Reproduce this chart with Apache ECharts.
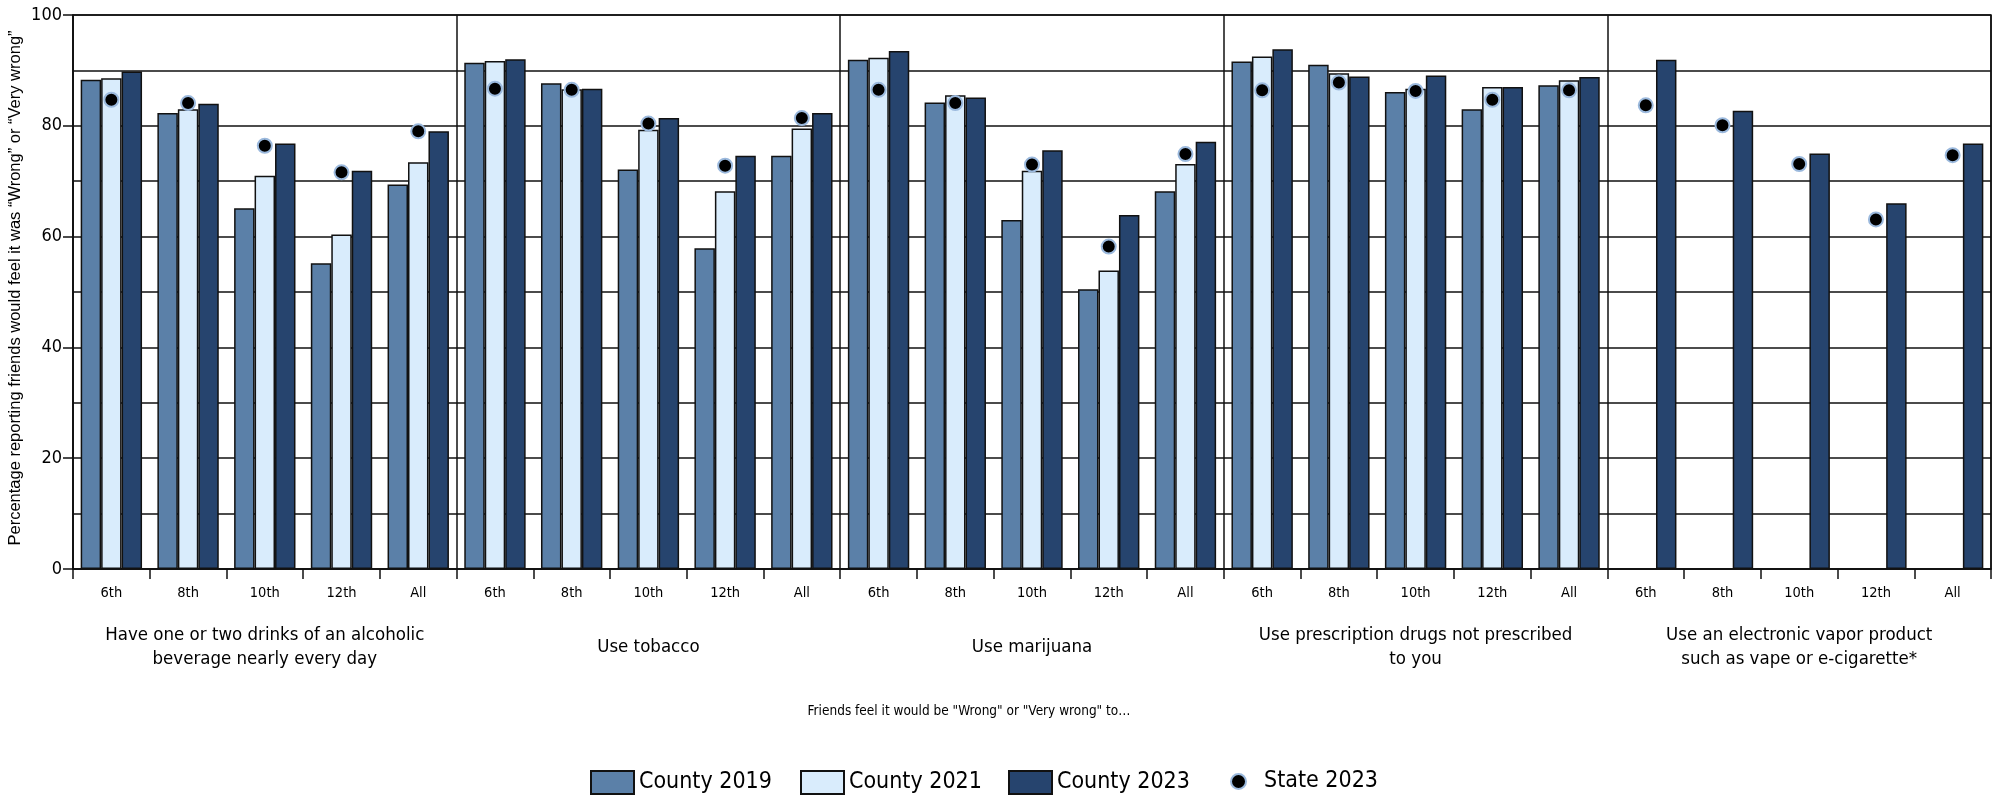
<!DOCTYPE html>
<html>
<head>
<meta charset="utf-8">
<script src="https://cdn.jsdelivr.net/npm/echarts@6/dist/echarts.min.js"></script>
<style>
html,body{margin:0;padding:0;background:#fff;}
#chart{width:1999px;height:801px;}
</style>
</head>
<body>
<div id="chart"></div>
<script>
const grades = ['6th','8th','10th','12th','All'];
const groups = [
  'Have one or two drinks of an alcoholic\nbeverage nearly every day',
  'Use tobacco',
  'Use marijuana',
  'Use prescription drugs not prescribed\nto you',
  'Use an electronic vapor product\nsuch as vape or e-cigarette*'
];
const categories = [].concat(grades, grades, grades, grades, grades);
const county2019 = [88.3, 82.3, 65.1, 55.2, 69.4,  91.4, 87.7, 72.1, 57.9, 74.6,  91.9, 84.2, 63.0, 50.5, 68.2,  91.6, 91.0, 86.1, 83.0, 87.3,  null, null, null, null, null];
const county2021 = [88.6, 83.0, 71.0, 60.4, 73.4,  91.7, 86.6, 79.3, 68.2, 79.5,  92.3, 85.5, 71.9, 53.9, 73.1,  92.5, 89.5, 86.7, 87.0, 88.2,  null, null, null, null, null];
const county2023 = [89.8, 84.0, 76.8, 71.9, 79.0,  92.0, 86.7, 81.4, 74.6, 82.3,  93.5, 85.1, 75.6, 63.9, 77.1,  93.8, 88.9, 89.1, 87.0, 88.8,  91.9, 82.7, 75.0, 66.0, 76.8];
const state2023  = [84.7, 84.1, 76.4, 71.6, 79.0,  86.7, 86.5, 80.4, 72.8, 81.4,  86.5, 84.1, 73.0, 58.2, 74.9,  86.4, 87.8, 86.3, 84.7, 86.4,  83.7, 80.1, 73.1, 63.1, 74.7];
const yTicks = [0, 20, 40, 60, 80, 100];
const yTitle = 'Percentage reporting friends would feel it was \u201cWrong\u201d or \u201cVery wrong\u201d';
const xTitle = 'Friends feel it would be "Wrong" or "Very wrong" to\u2026';

const NARROW = "'Liberation Sans Narrow', 'DejaVu Sans Condensed', 'Arial Narrow', sans-serif";
const REG = "'Liberation Sans', 'DejaVu Sans', sans-serif";
const LINE = '#111';

const chart = echarts.init(document.getElementById('chart'), null, {renderer: 'canvas'});
const barStyle = (c) => ({color: c, borderColor: '#111', borderWidth: 1.5});
const legendText = {fontFamily: NARROW, fontSize: 23, color: '#000'};
const mkLegend = (name, icon, left, w, h, extra) => Object.assign({
  data: [name], icon: icon, left: left, top: 770, itemWidth: w, itemHeight: h, padding: 0,
  textStyle: legendText
}, extra || {});

chart.setOption({
  backgroundColor: '#fff',
  animation: false,
  textStyle: {fontFamily: NARROW, color: '#000'},
  grid: {left: 73, right: 8, top: 15, bottom: 232, show: true, borderColor: LINE, borderWidth: 1.5, backgroundColor: 'transparent'},
  graphic: [{
    type: 'text', x: 969, y: 711,
    style: {text: xTitle, fontFamily: NARROW, fontSize: 13.5, fill: '#000', textAlign: 'center', textVerticalAlign: 'middle'}
  }, {
    type: 'text', x: 15, y: 288, rotation: Math.PI / 2,
    style: {text: yTitle, fontFamily: REG, fontSize: 16.5, fill: '#000', textAlign: 'center', textVerticalAlign: 'middle'}
  }],
  legend: [
    mkLegend('County 2019', 'rect', 590, 43, 23),
    mkLegend('County 2021', 'rect', 800, 43, 23),
    mkLegend('County 2023', 'rect', 1008, 43, 23),
    mkLegend('State 2023', 'circle', 1230, 15, 15, {textStyle: Object.assign({}, legendText, {padding: [0, 0, 0, 13]})})
  ],
  xAxis: [{
    type: 'category', data: categories, gridIndex: 0, position: 'bottom',
    axisLine: {show: true, lineStyle: {color: LINE, width: 1.5}},
    axisTick: {show: true, interval: 0, length: 10, lineStyle: {color: LINE, width: 1.5}},
    axisLabel: {interval: 0, margin: 17, fontSize: 14.5, color: '#000', fontFamily: NARROW},
    splitLine: {show: true, interval: (i) => i % 5 === 0, lineStyle: {color: LINE, width: 1.5}}
  }, {
    type: 'category', data: groups, gridIndex: 0, position: 'bottom',
    axisLine: {show: false}, axisTick: {show: false}, splitLine: {show: false},
    axisLabel: {interval: 0, margin: 78, fontSize: 18.5, lineHeight: 24, verticalAlign: 'middle', color: '#000', fontFamily: NARROW}
  }],
  yAxis: {
    type: 'value', min: 0, max: 100, interval: 20,
    axisLine: {show: true, lineStyle: {color: LINE, width: 1.5}},
    axisTick: {show: true, length: 10, lineStyle: {color: LINE, width: 1.5}},
    axisLabel: {margin: 11, fontSize: 18, color: '#000', fontFamily: NARROW,
      formatter: (v) => yTicks.indexOf(v) >= 0 ? String(v) : ''},
    splitLine: {show: true, lineStyle: {color: LINE, width: 1.5}},
    minorTick: {show: false, splitNumber: 2},
    minorSplitLine: {show: true, lineStyle: {color: LINE, width: 1.5}}
  },
  series: [
    {name: 'County 2019', type: 'bar', data: county2019, barGap: '0%', barCategoryGap: '20%', itemStyle: barStyle('#5b80a8'), z: 2},
    {name: 'County 2021', type: 'bar', data: county2021, barGap: '0%', barCategoryGap: '20%', itemStyle: barStyle('#d9ecfc'), z: 2},
    {name: 'County 2023', type: 'bar', data: county2023, barGap: '0%', barCategoryGap: '20%', itemStyle: barStyle('#26446e'), z: 2},
    {name: 'State 2023', type: 'scatter', data: state2023, symbol: 'circle', symbolSize: 14,
      itemStyle: {color: '#000', borderColor: '#9bb9dd', borderWidth: 2, opacity: 1}, z: 5}
  ]
});
</script>
</body>
</html>
